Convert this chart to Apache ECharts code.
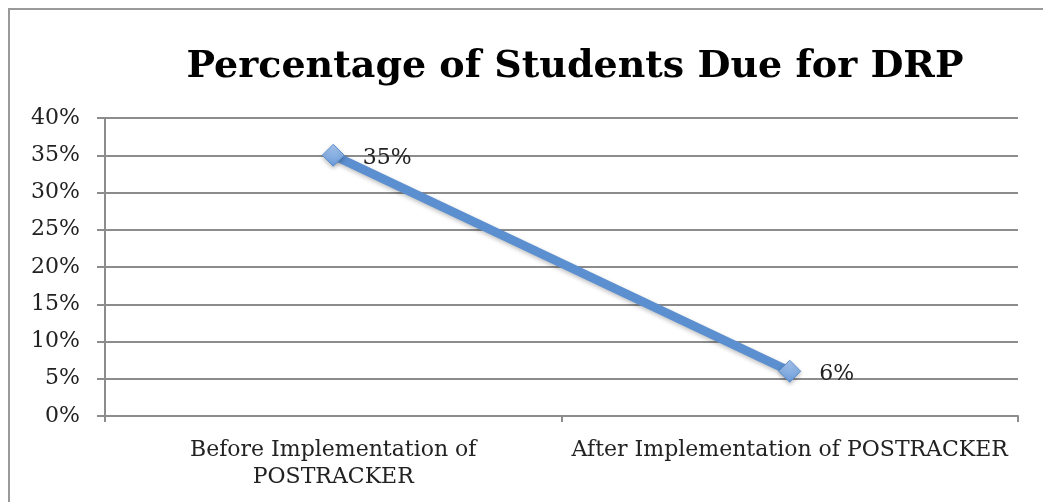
<!DOCTYPE html>
<html>
<head>
<meta charset="utf-8">
<script src="https://cdn.jsdelivr.net/npm/echarts@6/dist/echarts.min.js"></script>
<style>
html,body{margin:0;padding:0;background:#fff;}
#frame{position:absolute;left:8px;top:8px;width:1100px;height:600px;border-left:2px solid #9a9a9a;border-top:2px solid #9a9a9a;}
#chart{position:absolute;left:0;top:0;width:1043px;height:502px;}
</style>
</head>
<body>
<div id="frame"></div>
<div id="chart"></div>
<script>
const title = 'Percentage of Students Due for DRP';
const categories = ['Before Implementation of\nPOSTRACKER', 'After Implementation of POSTRACKER'];
const values = [35, 6];
const yTicks = { min: 0, max: 40, interval: 5 };

const serif = '"DejaVu Serif", "Liberation Serif", serif';
const chart = echarts.init(document.getElementById('chart'), null, { renderer: 'canvas' });
chart.setOption({
  backgroundColor: 'transparent',
  animation: false,
  title: {
    text: title,
    left: 570,
    textAlign: 'center',
    top: 43,
    textStyle: { fontFamily: serif, fontWeight: 'bold', fontSize: 38, color: '#000' }
  },
  grid: { left: 105, right: 25, top: 118, bottom: 86, containLabel: false },
  xAxis: {
    type: 'category',
    data: categories,
    boundaryGap: true,
    axisLine: { lineStyle: { color: '#8c8c8c', width: 2 } },
    axisTick: { show: true, length: 6, alignWithLabel: false, lineStyle: { color: '#8c8c8c', width: 2 } },
    axisLabel: { interval: 0, margin: 21, fontFamily: serif, fontSize: 22, color: '#222', lineHeight: 27 }
  },
  yAxis: {
    type: 'value',
    min: yTicks.min, max: yTicks.max, interval: yTicks.interval,
    axisLine: { show: true, lineStyle: { color: '#8c8c8c', width: 2 } },
    axisTick: { show: true, length: 8, lineStyle: { color: '#8c8c8c', width: 2 } },
    splitLine: { lineStyle: { color: '#8c8c8c', width: 2 } },
    axisLabel: { formatter: '{value}%', margin: 25, fontFamily: serif, fontSize: 22, color: '#222' }
  },
  series: [{
    type: 'line',
    data: values,
    symbol: 'diamond',
    symbolSize: 22,
    lineStyle: { color: '#5b8fcf', width: 9, shadowColor: 'rgba(0,0,0,0.25)', shadowBlur: 4, shadowOffsetY: 2 },
    itemStyle: {
      color: new echarts.graphic.LinearGradient(0, 0, 0, 1, [
        { offset: 0, color: '#a9c8f0' },
        { offset: 1, color: '#6a9ad8' }
      ]),
      borderColor: '#5b8fcf',
      borderWidth: 1,
      shadowColor: 'rgba(0,0,0,0.25)', shadowBlur: 4, shadowOffsetY: 2
    },
    label: {
      show: true,
      position: 'right',
      distance: 18,
      offset: [0, 3],
      formatter: '{c}%',
      fontFamily: serif,
      fontSize: 22,
      color: '#222'
    }
  }]
});
</script>
</body>
</html>
